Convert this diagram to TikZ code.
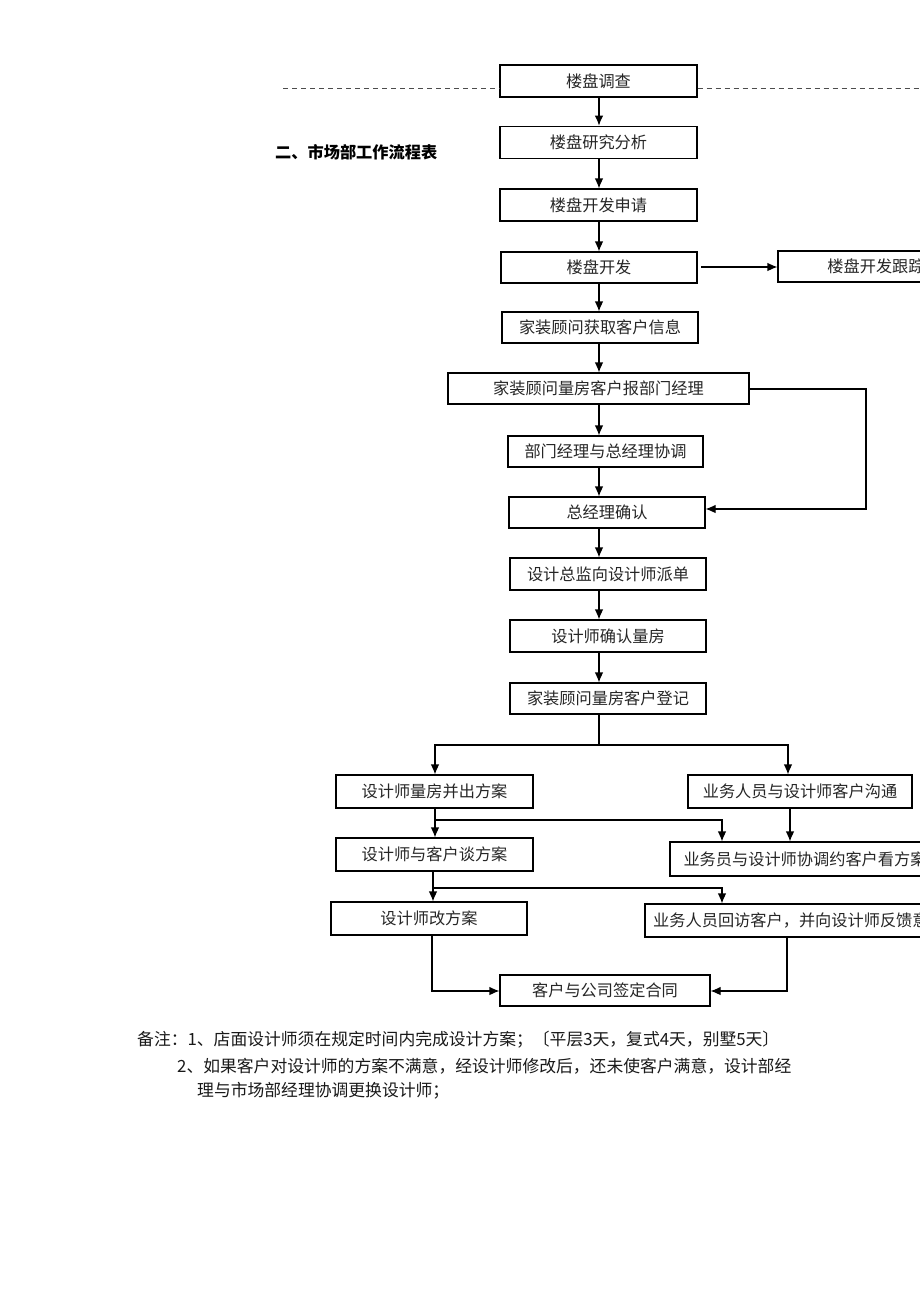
\documentclass[tikz,border=0pt]{standalone}
\usepackage{fontspec}
\setmainfont{Noto Sans CJK SC}
\usetikzlibrary{arrows.meta,calc}
\begin{document}
\begin{tikzpicture}[x=1pt,y=-1pt,
  box/.style={draw=black,line width=1.1pt,rectangle,inner sep=0pt,font=\fontsize{16.2}{19}\selectfont,text=black!85},
  arr/.style={draw=black,line width=1.1pt,-{Latex[length=10pt,width=8.5pt]}},
  ln/.style={draw=black,line width=1.1pt},
  note/.style={anchor=west,inner sep=0pt,font=\fontsize{16.8}{19}\selectfont,text=black!90}]
\useasboundingbox (0,0) rectangle (920,1302);
\clip (0,0) rectangle (920,1302);
\fill[white] (0,0) rectangle (920,1302);
\coordinate (cx) at (599,0);
% boxes
\node[box,minimum width=197pt,minimum height=32pt] (n1) at (598.5,81) {楼盘调查};
\node[box,line width=1.8pt,minimum width=197pt,minimum height=32pt] (n2) at (598.5,142.5) {楼盘研究分析};
\node[box,minimum width=197pt,minimum height=32pt] (n3) at (598.5,205) {楼盘开发申请};
\node[box,minimum width=196pt,minimum height=31pt] (n4) at (599,267.5) {楼盘开发};
\node[box,minimum width=196pt,minimum height=31pt] (n4b) at (876,266.5) {楼盘开发跟踪};
\node[box,minimum width=196pt,minimum height=31pt] (n5) at (600,327.5) {家装顾问获取客户信息};
\node[box,minimum width=301pt,minimum height=31pt] (n6) at (598.5,388.5) {家装顾问量房客户报部门经理};
\node[box,minimum width=195pt,minimum height=31pt] (n7) at (605.5,451.5) {部门经理与总经理协调};
\node[box,minimum width=196pt,minimum height=31pt] (n8) at (607,512.5) {总经理确认};
\node[box,minimum width=196pt,minimum height=32pt] (n9) at (608,574) {设计总监向设计师派单};
\node[box,minimum width=196pt,minimum height=32pt] (n10) at (608,636) {设计师确认量房};
\node[box,minimum width=196pt,minimum height=31pt] (n11) at (608,698.5) {家装顾问量房客户登记};
\node[box,minimum width=197pt,minimum height=33pt] (n12) at (434.5,791.5) {设计师量房并出方案};
\node[box,minimum width=224pt,minimum height=33pt] (n13) at (800,791.5) {业务人员与设计师客户沟通};
\node[box,minimum width=197pt,minimum height=33pt] (n14) at (434.5,854.5) {设计师与客户谈方案};
\node[box,minimum width=270pt,minimum height=34pt] (n15) at (805,859) {业务员与设计师协调约客户看方案};
\node[box,minimum width=196pt,minimum height=33pt] (n16) at (429,918.5) {设计师改方案};
\node[box,minimum width=308pt,minimum height=33pt] (n17) at (799,920.5) {业务人员回访客户，并向设计师反馈意见};
\node[box,minimum width=210pt,minimum height=31pt] (n18) at (605,990.5) {客户与公司签定合同};
% dashed line
\coordinate (dl) at (283,88);
\coordinate (dr) at (920,88);
\draw[black!70,line width=0.8pt,dash pattern=on 5pt off 4pt] (dl) -- (dl -| n1.west);
\draw[black!70,line width=0.8pt,dash pattern=on 5pt off 4pt] (dr -| n1.east) -- (dr);
% title
\node[anchor=west,inner sep=0pt,font=\fontsize{16.2}{19}\selectfont\bfseries] (title) at (275,152) {二、市场部工作流程表};
% main column arrows
\draw[arr] (n1.south -| cx) -- (n2.north -| cx);
\draw[arr] (n2.south -| cx) -- (n3.north -| cx);
\draw[arr] (n3.south -| cx) -- (n4.north -| cx);
\draw[arr] (n4.south -| cx) -- (n5.north -| cx);
\draw[arr] (n5.south -| cx) -- (n6.north -| cx);
\draw[arr] (n6.south -| cx) -- (n7.north -| cx);
\draw[arr] (n7.south -| cx) -- (n8.north -| cx);
\draw[arr] (n8.south -| cx) -- (n9.north -| cx);
\draw[arr] (n9.south -| cx) -- (n10.north -| cx);
\draw[arr] (n10.south -| cx) -- (n11.north -| cx);
% side arrow
\coordinate (s4) at (701,267);
\draw[arr] (s4) -- (s4 -| n4b.west);
% feedback loop
\coordinate (lp) at (866,389);
\draw[arr] (n6.east |- lp) -- (lp) -- (866,509) -- (n8.east |- 0,509);
% branch
\coordinate (bl) at (435,745);
\coordinate (br) at (788,745);
\draw[ln] (n11.south -| cx) -- (cx |- bl);
\draw[arr] (cx |- bl) -- (bl) -- (bl |- n12.north);
\draw[arr] (cx |- bl) -- (br) -- (br |- n13.north);
% second level
\coordinate (c12) at (435,820);
\coordinate (c12r) at (722,820);
\draw[arr] (n12.south -| c12) -- (c12 |- n14.north);
\draw[arr] (c12) -- (c12r) -- (c12r |- n15.north);
\coordinate (c13) at (790,0);
\draw[arr] (n13.south -| c13) -- (c13 |- n15.north);
% third level
\coordinate (c14) at (433,888);
\coordinate (c14r) at (722,888);
\draw[arr] (n14.south -| c14) -- (c14 |- n16.north);
\draw[arr] (c14) -- (c14r) -- (c14r |- n17.north);
% to contract
\coordinate (c16) at (432,991);
\coordinate (c17) at (787,991);
\draw[arr] (n16.south -| c16) -- (c16) -- (n18.west |- c16);
\draw[arr] (n17.south -| c17) -- (c17) -- (n18.east |- c17);
% notes
\node[note] (m1) at (137,1040) {备注：1、店面设计师须在规定时间内完成设计方案；〔平层3天，复式4天，别墅5天〕};
\node[note] (m2) at (177,1066) {2、如果客户对设计师的方案不满意，经设计师修改后，还未使客户满意，设计部经};
\node[note] (m3) at (197,1091) {理与市场部经理协调更换设计师；};
\end{tikzpicture}
\end{document}
